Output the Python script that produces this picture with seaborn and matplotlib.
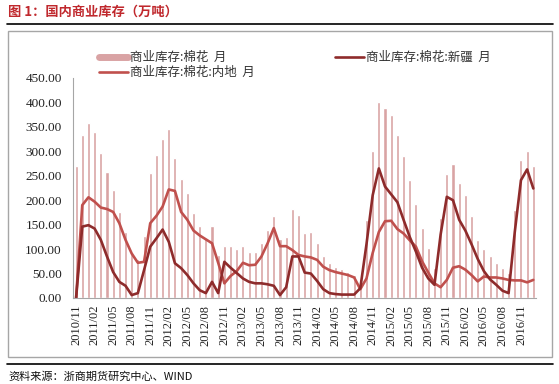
import numpy as np
import pandas as pd
import matplotlib.pyplot as plt
import seaborn as sns
from matplotlib.lines import Line2D
from matplotlib.patches import Rectangle

# monthly data 2010/11 - 2017/01 (万吨)
months = pd.date_range('2010-11-01', periods=75, freq='MS').strftime('%Y/%m').tolist()

total = [270, 333, 358, 340, 296, 258, 221, 176, 136, 92, 80, 127, 256, 292, 325,
         345, 287, 243, 214, 173, 147, 122, 147, 88, 106, 107, 100, 107, 95, 95,
         112, 139, 168, 120, 125, 183, 170, 132, 136, 112, 85, 71, 64, 59, 54,
         48, 38, 160, 301, 401, 388, 374, 333, 290, 241, 193, 143, 103, 62, 164,
         253, 274, 235, 211, 168, 119, 100, 86, 72, 61, 52, 179, 282, 301, 269]

neidi = [0, 190, 206, 197, 185, 182, 176, 153, 119, 91, 72, 74, 153, 168, 187,
         222, 219, 176, 160, 138, 128, 120, 112, 72, 30, 45, 55, 72, 67, 68,
         85, 112, 143, 106, 106, 98, 88, 85, 83, 78, 64, 57, 53, 50, 47,
         42, 18, 40, 92, 135, 157, 158, 141, 132, 118, 105, 75, 52, 30, 22,
         37, 62, 65, 58, 47, 34, 44, 42, 42, 40, 37, 36, 36, 32, 37]

xinjiang = [0, 146, 149, 142, 119, 85, 53, 33, 25, 6, 10, 57, 105, 122, 140,
            115, 71, 61, 47, 30, 16, 10, 33, 10, 74, 62, 51, 40, 33, 30,
            30, 28, 25, 6, 22, 85, 85, 52, 50, 35, 18, 10, 8, 7, 7,
            7, 20, 110, 210, 265, 228, 212, 196, 160, 125, 95, 62, 40, 27, 130,
            207, 200, 160, 138, 110, 80, 55, 38, 27, 15, 10, 135, 241, 263, 224]

labels = ['商业库存:棉花  月', '商业库存:棉花:内地  月', '商业库存:棉花:新疆  月']

df = pd.DataFrame({'month': months, 'total': total, 'neidi': neidi, 'xinjiang': xinjiang})
df['pos'] = np.arange(len(df))

bar_c = '#D9A3A4'
neidi_c = '#C0504D'
xj_c = '#8E2B2B'

sns.set_theme(style="white")
plt.rcParams['font.family'] = ['Noto Sans CJK SC', 'DejaVu Sans']

fig = plt.figure(figsize=(5.59, 3.84), dpi=100)
ax = fig.add_axes([73 / 559, 1 - 298 / 384, (536.4 - 73) / 559, 220 / 384])

sns.barplot(data=df, x='pos', y='total', color=bar_c, saturation=1, width=0.5, ax=ax)
sns.lineplot(data=df, x='pos', y='neidi', color=neidi_c, linewidth=1.9, ax=ax)
sns.lineplot(data=df, x='pos', y='xinjiang', color=xj_c, linewidth=1.9, ax=ax)

ax.set_xlim(-0.5, len(df) - 0.5)
ax.set_ylim(0, 450)
yt = list(range(0, 451, 50))
ax.set_yticks(yt)
ax.set_yticklabels([f'{v:.2f}' for v in yt], fontfamily='Liberation Serif', fontsize=9.5, color='#222222')
ax.set_xticks(df['pos'][::3])
ax.set_xticklabels(df['month'][::3], rotation=90, fontfamily='Liberation Serif', fontsize=9, color='#222222')
ax.set_xlabel('')
ax.set_ylabel('')
ax.tick_params(length=0)
ax.tick_params(axis='y', pad=8)
ax.tick_params(axis='x', pad=5)
for s in ['top', 'right']:
    ax.spines[s].set_visible(False)
for s in ['left', 'bottom']:
    ax.spines[s].set_color('#A6A6A6')
    ax.spines[s].set_linewidth(0.8)

# legends
h_bar = Line2D([], [], color=bar_c, lw=5)
h_nd = Line2D([], [], color=neidi_c, lw=1.9)
h_xj = Line2D([], [], color=xj_c, lw=1.9)
leg_kw = dict(loc='upper left', frameon=False, fontsize=9, handlelength=2.3, handletextpad=0.2,
              labelspacing=0.15, borderpad=0, borderaxespad=0, labelcolor='#333333')
fig.legend([h_bar, h_nd], labels[:2], bbox_to_anchor=(99 / 559, 1 - 51 / 384), **leg_kw)
fig.legend([h_xj], labels[2:], bbox_to_anchor=(335 / 559, 1 - 51 / 384), **leg_kw)

# frame and report decorations
fig.text(8 / 559, 1 - 12 / 384, '图 1：国内商业库存（万吨）', color='#C0282D', fontsize=9.5,
         fontweight='bold', va='center')
fig.add_artist(Line2D([7 / 559, 553 / 559], [1 - 24 / 384] * 2, color='black', lw=1.2))
fig.add_artist(Rectangle((8 / 559, 1 - 357 / 384), 544 / 559, 326 / 384, fill=False,
                         edgecolor='#A6A6A6', lw=1, transform=fig.transFigure))
fig.add_artist(Line2D([7 / 559, 553 / 559], [1 - 364 / 384] * 2, color='black', lw=1.2))
fig.text(8 / 559, 1 - 377 / 384, '资料来源：浙商期货研究中心、WIND', color='#111111', fontsize=8, va='center')

fig.savefig('out.png', dpi=100)
